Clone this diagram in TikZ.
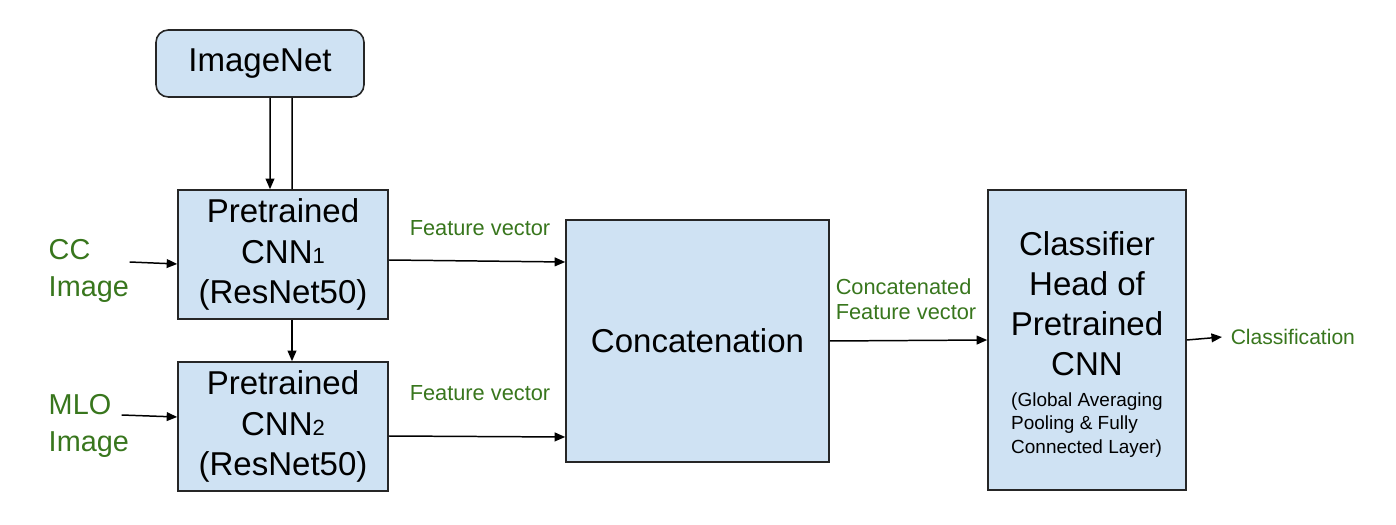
\documentclass[tikz,border=0pt]{standalone}
\usepackage{fontspec}
\setmainfont{Liberation Sans}
\usetikzlibrary{arrows.meta}
\definecolor{boxblue}{RGB}{207,226,243}
\definecolor{labelgreen}{RGB}{56,118,29}
\newcommand{\cnnidx}[1]{{\fontsize{12.5}{12.5}\selectfont #1}}

\begin{document}
\begin{tikzpicture}[>={Triangle[length=6pt,width=5pt]}, line width=0.85pt,
  box/.style={draw=black!85,fill=boxblue,line width=0.9pt,align=center,inner sep=0pt,
    font=\fontsize{18.8}{22.8}\selectfont},
  lbl/.style={text=labelgreen,align=left,inner sep=0pt,font=\fontsize{12.4}{14.2}\selectfont},
  inlbl/.style={lbl,font=\fontsize{16.4}{21}\selectfont}]
\useasboundingbox (0,0) rectangle (27.92,10.48);
% boxes
\node[box,rounded corners=7pt,minimum width=4.16cm,minimum height=1.34cm] (imgnet) at (5.2,9.21) {ImageNet};
\node[box,minimum width=4.2cm,minimum height=2.58cm] (cnn1) at (5.66,5.39) {Pretrained\\CNN\cnnidx{1}\\(ResNet50)};
\node[box,minimum width=4.2cm,minimum height=2.58cm] (cnn2) at (5.66,1.95) {Pretrained\\CNN\cnnidx{2}\\(ResNet50)};
\node[box,minimum width=5.26cm,minimum height=4.84cm] (concat) at (13.95,3.66) {Concatenation};
\node[box,minimum width=3.96cm,minimum height=6cm] (clf) at (21.74,3.68) {\rule{0pt}{20.5pt}Classifier\\Head of\\Pretrained\\CNN\\[-5.4pt]{\fontsize{10.8}{13.5}\selectfont\begin{tabular}[t]{@{}l@{}}(Global Averaging\\Pooling \& Fully\\Connected Layer)\end{tabular}}};
% labels
\node[inlbl,anchor=west] (cc) at (0.96,5.06) {CC\\Image};
\node[inlbl,anchor=west] (mlo) at (0.96,1.97) {MLO\\Image};
\node[lbl] (fv1) at (9.6,5.92) {Feature vector};
\node[lbl] (fv2) at (9.6,2.62) {Feature vector};
\node[lbl,anchor=west] (cfv) at (16.7,4.49) {Concatenated\\Feature vector};
\node[lbl,anchor=west,font=\fontsize{12}{14}\selectfont] (cls) at (24.6,3.74) {Classification};
% connectors
\draw[->] ([xshift=0.2cm]imgnet.south) -- ([xshift=-0.26cm]cnn1.north);
\draw ([xshift=0.64cm]imgnet.south) -- ([xshift=0.18cm]cnn1.north);
\draw[->] ([xshift=0.18cm]cnn1.south) -- ([xshift=0.18cm]cnn2.north);
\draw[->] ([yshift=0.18cm]cc.east) -- ([yshift=-0.19cm]cnn1.west);
\draw[->] ([xshift=-0.16cm,yshift=0.21cm]mlo.east) -- ([yshift=0.19cm]cnn2.west);
\draw[->] ([yshift=-0.11cm]cnn1.east) -- ([yshift=1.58cm]concat.west);
\draw[->] ([yshift=-0.19cm]cnn2.east) -- ([yshift=-1.92cm]concat.west);
\draw[->] (concat.east) -- (clf.west);
\draw[->] (clf.east) -- ([xshift=-0.16cm]cls.west);
\end{tikzpicture}
\end{document}
